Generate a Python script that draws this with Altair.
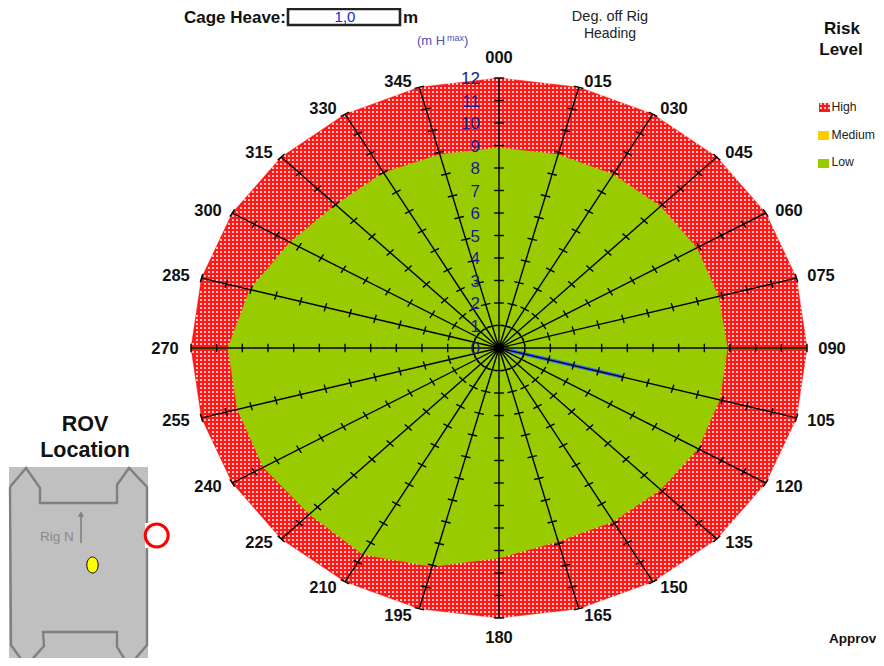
import altair as alt
import numpy as np
import pandas as pd

# ---------- chart values ----------
bearings = list(range(0, 360, 15))
bearing_labels = ["%03d" % b for b in bearings]
outer_high = [12] * 24
inner_low = [8.9, 8.9, 8.9, 8.9, 8.9, 8.85, 8.9, 8.9, 8.95, 8.9, 8.9, 8.9,
             9.33, 10.05, 10.6, 10.45, 10.6, 10.55, 10.56, 10.05, 9.4, 9.0, 9.0, 8.9]
radial_ticks = list(range(0, 13))
heading_bearing = 105
heading_value = 5
label_px_x = [499, 598, 674, 739, 789, 821, 832, 821, 789, 739, 674, 598,
              499, 398, 323, 259, 208, 176, 165, 176, 208, 259, 323, 398]
label_px_y = [58, 82, 109, 153, 211, 276, 349, 421, 487, 543, 588, 616,
              638, 616, 588, 543, 487, 421, 349, 276, 211, 153, 109, 82]
rig_x = [10, 26, 40, 40, 117, 117, 129, 147, 147, 129, 117, 117, 43, 44, 26, 11, 10]
rig_y = [487, 468, 488, 503, 503, 485, 468, 487, 645, 666, 647, 632, 632, 646, 666, 645, 487]

# ---------- scales ----------
CX, CY, SX, SY = 499.0, 348.0, 308 / 12, 270 / 12
def ux(px): return (np.asarray(px, dtype=float) - CX) / SX
def uy(py): return (CY - np.asarray(py, dtype=float)) / SY
xs = alt.Scale(domain=[float(ux(8)), float(ux(876))], nice=False, zero=False)
ys = alt.Scale(domain=[float(uy(658)), float(uy(8))], nice=False, zero=False)
X = alt.X("x:Q", scale=xs, axis=None)
Y = alt.Y("y:Q", scale=ys, axis=None)

def polar(r, deg):
    a = np.radians(deg)
    return np.asarray(r) * np.sin(a), np.asarray(r) * np.cos(a)

def poly_df(r):
    px, py = polar(np.array(r + r[:1], dtype=float), np.array(bearings + [360]))
    return pd.DataFrame({"x": px, "y": py, "i": range(len(px))})

def filled(df, color):
    return alt.Chart(df).mark_line(fill=color, stroke=color, strokeWidth=0.5).encode(
        x=X, y=Y, order="i:Q")

def segs(rows, **mk):
    d = pd.DataFrame(rows, columns=["x", "y", "x2", "y2"])
    return alt.Chart(d).mark_rule(**mk).encode(x=X, y=Y, x2="x2:Q", y2="y2:Q")

def rect(x0, x1, y0, y1, **mk):
    d = pd.DataFrame({"x": [float(ux(x0))], "x2": [float(ux(x1))],
                      "y": [float(uy(y0))], "y2": [float(uy(y1))]})
    return alt.Chart(d).mark_rect(**mk).encode(x=X, y=Y, x2="x2:Q", y2="y2:Q")

def text(items, **mk):
    d = pd.DataFrame([{"x": float(ux(a)), "y": float(uy(b)), "t": t} for a, b, t in items])
    mk.setdefault("font", "Liberation Sans")
    return alt.Chart(d).mark_text(**mk).encode(x=X, y=Y, text="t:N")

def dot_rows(verts_px, step=4):
    """White dotted rows of the hatch, clipped to a convex pixel outline."""
    out = []
    vx, vy = verts_px
    for row in np.arange(np.ceil(vy.min() / step) * step, vy.max(), step):
        cuts = []
        for k in range(len(vx) - 1):
            y0, y1 = vy[k], vy[k + 1]
            if (y0 - row) * (y1 - row) <= 0 and y0 != y1:
                cuts.append(vx[k] + (row - y0) / (y1 - y0) * (vx[k + 1] - vx[k]))
        if len(cuts) >= 2:
            left = np.ceil(min(cuts) / step) * step
            right = max(cuts)
            if right > left:
                out.append((float(ux(left)), float(uy(row)), float(ux(right)), float(uy(row))))
    return out

RED, GREEN, AMBER = "#FF1818", "#99CC00", "#FFCC00"
DASH = dict(strokeDash=[2, 2], color="#FFC4C4", strokeWidth=2)

# ---------- radar ----------
ox, oy = polar(np.array(outer_high + outer_high[:1], dtype=float), np.array(bearings + [360]))
outer_px = (CX + ox * SX, CY - oy * SY)
layers = [filled(poly_df(outer_high), RED),
          segs(dot_rows(outer_px), **DASH),
          filled(poly_df(inner_low), GREEN)]

hx, hy = polar(heading_value, heading_bearing)
layers.append(segs([(0, 0, float(hx), float(hy))], color="#2F6BFF", strokeWidth=3.6))

spokes, axis_h, ticks = [], [], []
for b in bearings:
    ex, ey = polar(12, b)
    (axis_h if b in (90, 270) else spokes).append((0, 0, float(ex), float(ey)))
    nx, ny = np.cos(np.radians(b)), -np.sin(np.radians(b))
    for r in radial_ticks:
        px, py = polar(r, b)
        ticks.append((float(px - 0.19 * nx), float(py - 0.19 * ny),
                      float(px + 0.19 * nx), float(py + 0.19 * ny)))
layers += [segs(spokes, color="#000000", strokeWidth=1.4),
           segs(axis_h, color="#2B3300", strokeWidth=2.2),
           segs(ticks, color="#000000", strokeWidth=1.4)]

layers.append(text([(480, CY - r * SY + 1, str(r)) for r in radial_ticks],
                   align="right", fontSize=17, color="#1A1A90"))
layers.append(text(list(zip(label_px_x, label_px_y, bearing_labels)),
                   fontSize=16.5, fontWeight="bold", color="#111111"))

# ---------- titles ----------
layers += [
    text([(842, 29, "Risk"), (841, 50, "Level")], fontSize=17, fontWeight="bold", color="#111111"),
    text([(610, 17, "Deg. off Rig")], fontSize=14.5, color="#222222"),
    text([(610, 34, "Heading")], fontSize=14, color="#222222"),
    text([(417, 41, "(m H")], align="left", fontSize=13, color="#5050B0"),
    text([(447, 38, "max")], align="left", fontSize=9, color="#5050B0"),
    text([(464, 41, ")")], align="left", fontSize=13, color="#5050B0"),
    text([(286, 23, "Cage Heave:")], align="right", baseline="alphabetic", fontSize=17,
         fontWeight="bold", color="#111111"),
    rect(288, 400, 9, 25, fill="#FFFFFF", stroke="#222222", strokeWidth=2.6),
    text([(345, 22, "1,0")], baseline="alphabetic", fontSize=15, color="#2222CC"),
    text([(403, 23, "m")], align="left", baseline="alphabetic", fontSize=17, fontWeight="bold",
         color="#111111"),
    text([(829, 643, "Approv")], align="left", baseline="alphabetic", fontSize=13.5,
         fontWeight="bold", color="#111111"),
]

# ---------- legend ----------
layers.append(rect(819, 830, 103, 112, fill=RED))
layers.append(segs(dot_rows((np.array([819., 830, 830, 819, 819]),
                             np.array([103., 103, 112, 112, 103]))), **DASH))
layers += [rect(818, 829, 131, 140, fill=AMBER), rect(818, 829, 159, 168, fill=GREEN),
           text([(831.5, 107, "High"), (831.5, 135, "Medium"), (831.5, 162, "Low")],
                align="left", fontSize=12.2, color="#222222")]

# ---------- ROV inset ----------
rig_df = pd.DataFrame({"x": ux(rig_x), "y": uy(rig_y), "i": range(len(rig_x))})
layers += [
    text([(85, 425, "ROV"), (85, 451, "Location")], fontSize=21.5, fontWeight="bold", color="#111111"),
    rect(9, 148, 467, 666, fill="#C0C0C0"),
    alt.Chart(rig_df).mark_line(color="#808080", strokeWidth=2.4).encode(x=X, y=Y, order="i:Q"),
    segs([(float(ux(81)), float(uy(543)), float(ux(81)), float(uy(515)))],
         color="#808080", strokeWidth=1.6),
    alt.Chart(pd.DataFrame({"x": [float(ux(81))], "y": [float(uy(514))]}))
       .mark_point(shape="triangle-up", filled=True, size=38, color="#808080", opacity=1).encode(x=X, y=Y),
    text([(40, 537, "Rig N")], align="left", fontSize=13.5, color="#8A8A8A"),
    alt.Chart(pd.DataFrame({"x": [float(ux(92.5))], "y": [float(uy(565))]}))
       .mark_point(shape="M0,-1 A.71,1 0 1,1 0,1 A.71,1 0 1,1 0,-1 Z", filled=True, size=256,
                   fill="#FFFF00", stroke="#000000", strokeWidth=1, opacity=1).encode(x=X, y=Y),
    rect(145, 149, 523, 548, fill="#FFFFFF"),
    alt.Chart(pd.DataFrame({"x": [float(ux(156.7))], "y": [float(uy(535.5))]}))
       .mark_point(shape="circle", size=529, fill="#FFFFFF", stroke="#FF0000",
                   strokeWidth=3, opacity=1, filled=True).encode(x=X, y=Y),
]

chart = alt.layer(*layers).properties(
    width=868, height=650, padding=0,
    autosize=alt.AutoSizeParams(type="none"),
    background="#FFFFFF",
).configure_view(stroke=None)

chart.save("out.html", embed_options={"renderer": "svg", "actions": False})
